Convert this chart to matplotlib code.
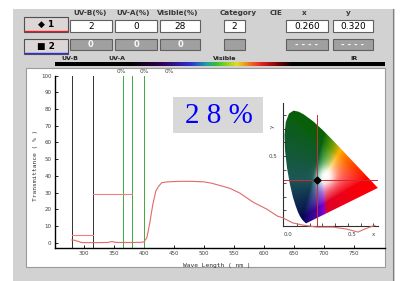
import numpy as np
import matplotlib
matplotlib.use("Agg")
import matplotlib.pyplot as plt
from matplotlib.patches import Rectangle, Polygon
from matplotlib.colors import LinearSegmentedColormap

W, H = 403, 281

# transmittance curve (wavelength nm, %)
wave = [280, 285, 290, 295, 300, 320, 340, 347, 352, 360, 380, 395, 400, 405,
        410, 415, 420, 425, 430, 440, 460, 480, 500, 513, 530, 543, 560, 582,
        605, 623, 632, 648, 665, 688, 715, 738, 757, 768, 777, 785]
trans = [1.8, 1.6, 1.0, 0.4, 0.2, 0.2, 0.3, 0.9, 0.4, 0.3, 0.3, 0.4, 0.6, 3,
         12, 23, 31, 34, 36, 36.5, 36.8, 36.8, 36.5, 35.7, 34, 32.7, 29.8, 24.4,
         20.2, 16, 15, 12, 10.7, 9.5, 9.5, 8.3, 6.5, 8.3, 9.5, 10.5]

band_edges = [280, 315]            # black lines
green_lines = [365, 380, 400]
pct_label_x = [363, 401, 443]
avg_bands = [(280, 315, 5), (315, 380, 29)]

x_ticks = [300, 350, 400, 450, 500, 550, 600, 650, 700, 750]
y_ticks = [0, 10, 20, 30, 40, 50, 60, 70, 80, 90, 100]

headers = ["UV-B(%)", "UV-A(%)", "Visible(%)", "Category", "CIE", "x", "y"]
row1 = ["2", "0", "28", "2", "0.260", "0.320"]
row2 = ["0", "0", "0", "", "- - - -", "- - - -"]
cie_x, cie_y = 0.260, 0.320
visible_pct = "2 8 %"

# CIE 1931 spectral locus
locus_x = [0.1741, 0.1714, 0.1644, 0.1566, 0.1440, 0.1241, 0.1096, 0.0913,
           0.0687, 0.0454, 0.0235, 0.0082, 0.0039, 0.0139, 0.0389, 0.0743,
           0.1142, 0.1547, 0.2296, 0.3016, 0.3731, 0.4441, 0.5125, 0.5752,
           0.6270, 0.6915, 0.7190, 0.7347]
locus_y = [0.0050, 0.0051, 0.0109, 0.0177, 0.0297, 0.0578, 0.0868, 0.1327,
           0.2007, 0.2950, 0.4127, 0.5384, 0.6548, 0.7502, 0.8120, 0.8338,
           0.8262, 0.8059, 0.7543, 0.6923, 0.6245, 0.5547, 0.4866, 0.4242,
           0.3725, 0.3083, 0.2809, 0.2653]


def px_box(x0, y0, x1, y1):
    return [x0 / W, 1 - y1 / H, (x1 - x0) / W, (y1 - y0) / H]


fig = plt.figure(figsize=(W / 100, H / 100), dpi=100)
fig.patch.set_facecolor("white")

# background layer in pixel coords
bg = fig.add_axes([0, 0, 1, 1], zorder=0)
bg.set_xlim(0, W)
bg.set_ylim(H, 0)
bg.axis("off")
bg.add_patch(Rectangle((13, 9), 382, 272, facecolor="#d2d2d2", edgecolor="none"))
bg.add_patch(Rectangle((26, 68), 359, 199, facecolor="white", edgecolor="#9a9a9a", lw=0.8))
bg.plot([393, 393], [9, 281], color="#808080", lw=0.8)

# buttons
for y0, label, ucol in [(17, "\u25c6 1", "#e02020"), (39, "\u25a0 2", "#3030d0")]:
    bg.add_patch(Rectangle((24, y0), 44, 15, facecolor="#ddd6d6", edgecolor="#505050", lw=0.8))
    bg.plot([25, 67], [y0 + 14, y0 + 14], color=ucol, lw=1.0)
    bg.text(46, y0 + 7.5, label, ha="center", va="center", fontsize=6.5,
            fontweight="bold", color="black")

head_x = [90, 133, 178, 238, 276, 304, 348]
for hx, txt in zip(head_x, headers):
    bg.text(hx, 13, txt, ha="center", va="center", fontsize=5.2, fontweight="bold", color="#383838")

boxes = [(70, 112), (115, 157), (160, 200), (224, 245), (286, 328), (333, 373)]
for (bx0, bx1), v1, v2 in zip(boxes, row1, row2):
    bg.add_patch(Rectangle((bx0, 20), bx1 - bx0, 12, facecolor="white", edgecolor="#606060", lw=0.8))
    bg.text((bx0 + bx1) / 2, 26.5, v1, ha="center", va="center", fontsize=6.5, color="black")
    bg.add_patch(Rectangle((bx0, 39), bx1 - bx0, 11, facecolor="#a0a0a0", edgecolor="#606060", lw=0.8))
    bg.text((bx0 + bx1) / 2, 44.5, v2, ha="center", va="center", fontsize=6,
            fontweight="bold", color="#f8f8f8")

# spectrum bar
bar = fig.add_axes(px_box(55, 62, 385, 66), zorder=1)
stops = [(0.0, "black"), (0.224, "black"), (0.322, "#300050"), (0.41, "#3030d0"),
         (0.46, "#20a0a0"), (0.487, "#30c030"), (0.552, "#e0e020"), (0.585, "#f08020"),
         (0.629, "#e02020"), (0.686, "#600000"), (0.72, "black"), (1.0, "black")]
cmap = LinearSegmentedColormap.from_list("spec", stops)
bar.imshow(np.linspace(0, 1, 400)[None, :], aspect="auto", cmap=cmap)
bar.axis("off")
for lx, txt in [(70, "UV-B"), (117, "UV-A"), (225, "Visible"), (354, "IR")]:
    bg.text(lx, 59, txt, ha="center", va="center", fontsize=4.5, fontweight="bold", color="#202020")

# big percentage box
bg.add_patch(Rectangle((173, 97), 90, 36, facecolor="#d8d8d8", edgecolor="none"))
bg.text(219, 116, visible_pct, ha="center", va="center", fontsize=21,
        family="Liberation Serif", color="#0000ff")

# inset CIE diagram
ins = fig.add_axes(px_box(283, 103, 378, 226), zorder=2)
ins.patch.set_alpha(0)
ins.set_xlim(-0.008, 0.736)
ins.set_ylim(-0.015, 0.89)
gx, gy = np.meshgrid(np.linspace(0, 0.74, 240), np.linspace(0.001, 0.84, 260))
X = gx / gy
Z = (1 - gx - gy) / gy
M = np.array([[3.2406, -1.5372, -0.4986], [-0.9689, 1.8758, 0.0415], [0.0557, -0.2040, 1.0570]])
rgb = np.einsum("ij,jkl->kli", M, np.array([X, np.ones_like(X), Z]))
rgb = np.clip(rgb, 0, None)
rgb = rgb / rgb.max(axis=2, keepdims=True).clip(1e-6)
rgb = rgb ** (1 / 1.5)
r, g, b = rgb[..., 0].copy(), rgb[..., 1].copy(), rgb[..., 2].copy()
g_ex = np.clip(g - np.maximum(r, b), 0, 1)
b_ex = np.clip(b - np.maximum(r, g), 0, 1)
c_ex = np.clip(np.minimum(g, b) - r, 0, 1)
y_ex = np.clip(np.minimum(r, g) - b, 0, 1)
m_ex = np.clip(np.minimum(r, b) - g, 0, 1)
rgb[..., 1] = g - 0.3 * y_ex
rgb[..., 2] = b - 0.8 * m_ex * (r >= b)
rgb[..., 0] = r - 0.35 * m_ex * (b > r)
rgb = rgb * (1 - 0.55 * g_ex - 0.65 * b_ex - 0.6 * c_ex - 0.15 * m_ex)[..., None]
gray = rgb.mean(axis=2, keepdims=True)
desat = (0.45 * c_ex + 0.25 * g_ex + 0.2 * b_ex)[..., None]
rgb = np.clip(rgb * (1 - desat) + gray * desat, 0, 1)
glow = np.exp(-((gx - 0.33) ** 2 + (gy - 0.35) ** 2) / (2 * 0.045 ** 2))[..., None]
rgb = rgb * (1 - glow) + glow
poly = Polygon(np.column_stack([locus_x, locus_y]), closed=True, facecolor="none", edgecolor="none")
ins.add_patch(poly)
im = ins.imshow(rgb, origin="lower", extent=(0, 0.74, 0.001, 0.84), aspect="auto", interpolation="bilinear")
im.set_clip_path(poly)
ins.plot([cie_x, cie_x], [-0.015, 0.8], color="#c83030", lw=0.7)
ins.plot([-0.008, 0.736], [cie_y, cie_y], color="#c83030", lw=0.7)
ins.plot(cie_x, cie_y, marker="D", color="black", ms=3.5)
for side in ["top", "right"]:
    ins.spines[side].set_visible(False)
ins.spines["left"].set_color("#303030")
ins.spines["bottom"].set_color("#303030")
ins.spines["left"].set_linewidth(0.8)
ins.spines["bottom"].set_linewidth(0.8)
ins.set_xticks(np.arange(0.1, 0.75, 0.1))
ins.set_yticks(np.arange(0.1, 0.85, 0.1))
ins.tick_params(direction="in", length=2, width=0.6, labelbottom=False, labelleft=False, color="#303030")
ins.text(0.0, -0.06, "0.0", ha="left", va="top", fontsize=4, color="#404040")
ins.text(0.5, -0.06, "0.5", ha="left", va="top", fontsize=4, color="#404040")
ins.text(0.69, -0.06, "x", ha="left", va="top", fontsize=4, color="#404040")
ins.text(-0.05, 0.5, "0.5", ha="right", va="center", fontsize=4, color="#404040")
ins.text(-0.07, 0.72, "y", ha="right", va="center", fontsize=4, rotation=90, color="#404040")

# main transmittance axes
ax = fig.add_axes(px_box(55, 75.5, 385, 248), zorder=3)
ax.patch.set_alpha(0)
ax.set_xlim(252, 802)
ax.set_ylim(-3, 100)
for side in ["top", "right"]:
    ax.spines[side].set_visible(False)
ax.spines["left"].set_linewidth(1.0)
ax.spines["bottom"].set_linewidth(1.0)
for b_ in band_edges:
    ax.plot([b_, b_], [-3, 100], color="#303030", lw=0.7)
for g_ in green_lines:
    ax.plot([g_, g_], [-3, 100], color="#40a840", lw=0.7)
for gx_, lab in zip(pct_label_x, ["0%", "0%", "0%"]):
    ax.text(gx_, 101, lab, ha="center", va="bottom", fontsize=4.2, color="#404040")
for a, b_, v in avg_bands:
    ax.plot([a, b_], [v, v], color="#f08080", lw=0.8)
ax.plot(wave, trans, color="#e06a6a", lw=0.8)
ax.set_xticks(x_ticks)
ax.set_yticks(y_ticks)
ax.tick_params(direction="in", length=2, width=0.6, labelsize=4, labelcolor="#404040", pad=2.5)
ax.text(0.49, -0.085, "Wave Length ( nm )", transform=ax.transAxes, ha="center", va="top",
        fontsize=4.5, family="DejaVu Sans Mono", color="#303030")
ax.text(-0.058, 0.48, "Transmittance ( % )", transform=ax.transAxes, ha="center", va="center",
        rotation=90, fontsize=4.5, family="DejaVu Sans Mono", color="#303030")

fig.savefig("out.png", dpi=100)
